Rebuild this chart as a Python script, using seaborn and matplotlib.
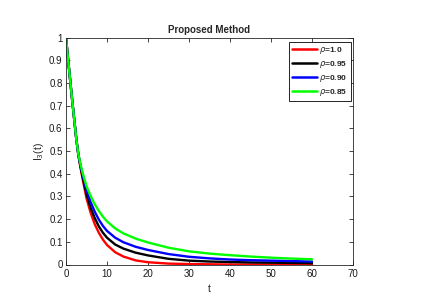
import numpy as np
import pandas as pd
import matplotlib
matplotlib.use("Agg")
import matplotlib.pyplot as plt
from matplotlib.lines import Line2D
import seaborn as sns

# Values
t_vals = [0, 0.5, 1, 1.5, 2, 2.5, 3, 3.5, 4, 5, 6, 7, 8, 9, 10, 12, 14, 17, 20,
          25, 30, 35, 40, 45, 50, 55, 60]
rho_100 = [1.0, 0.905, 0.815, 0.725, 0.64, 0.555, 0.485, 0.43, 0.382, 0.292, 0.228, 0.178,
           0.14, 0.11, 0.086, 0.054, 0.035, 0.018, 0.010, 0.004, 0.002, 0.001, 0.0,
           0.0, 0.0, 0.0, 0.0]
rho_095 = [1.0, 0.905, 0.815, 0.725, 0.64, 0.555, 0.485, 0.435, 0.39, 0.31, 0.25, 0.205,
           0.168, 0.14, 0.118, 0.088, 0.07, 0.052, 0.040, 0.025, 0.017, 0.013, 0.011,
           0.009, 0.008, 0.007, 0.006]
rho_090 = [1.0, 0.905, 0.815, 0.725, 0.64, 0.555, 0.486, 0.44, 0.40, 0.328, 0.275, 0.233,
           0.198, 0.17, 0.148, 0.118, 0.098, 0.078, 0.064, 0.046, 0.034, 0.027, 0.022,
           0.019, 0.017, 0.015, 0.013]
rho_085 = [1.0, 0.905, 0.815, 0.725, 0.64, 0.555, 0.487, 0.445, 0.407, 0.345, 0.302, 0.266,
           0.236, 0.211, 0.19, 0.159, 0.137, 0.114, 0.097, 0.074, 0.058, 0.048, 0.041,
           0.035, 0.030, 0.026, 0.023]

series_labels = [r"$\rho$=1.0", r"$\rho$=0.95", r"$\rho$=0.90", r"$\rho$=0.85"]
series_values = [rho_100, rho_095, rho_090, rho_085]
colors = ["#ff0000", "#000000", "#0000ff", "#00ff00"]

x_ticks = [0, 10, 20, 30, 40, 50, 60, 70]
y_ticks = [0, 0.1, 0.2, 0.3, 0.4, 0.5, 0.6, 0.7, 0.8, 0.9, 1]
y_tick_labels = ["0", "0.1", "0.2", "0.3", "0.4", "0.5", "0.6", "0.7", "0.8", "0.9", "1"]

rows = []
for lab, vals in zip(series_labels, series_values):
    for t, v in zip(t_vals, vals):
        rows.append({"t": t, "I": v, "series": lab})
df = pd.DataFrame(rows)

sns.set_theme(style="white")
plt.rcParams["font.family"] = ["Liberation Sans", "DejaVu Sans"]

fig = plt.figure(figsize=(4.21, 2.97), dpi=100)
ax = fig.add_axes([66 / 421, 1 - 264.5 / 297, (353 - 66) / 421, (264.5 - 37.5) / 297])

sns.lineplot(data=df, x="t", y="I", hue="series", hue_order=series_labels,
             palette=colors, linewidth=1.7, ax=ax, legend=False, estimator=None, sort=False)

ax.set_xlim(0, 70)
ax.set_ylim(0, 1)
ax.set_xticks(x_ticks)
ax.set_xticklabels([str(v) for v in x_ticks])
ax.set_yticks(y_ticks)
ax.set_yticklabels(y_tick_labels)

spine_col = "#262626"
for s in ax.spines.values():
    s.set_visible(True)
    s.set_color(spine_col)
    s.set_linewidth(0.6)

ax.tick_params(direction="in", length=3, width=0.6, colors=spine_col, labelsize=7,
               top=True, right=True, bottom=True, left=True)
ax.tick_params(axis="x", pad=3.5)
ax.tick_params(axis="y", pad=2.5)
for lab in ax.get_xticklabels() + ax.get_yticklabels():
    lab.set_color("#1a1a1a")

ax.set_title("Proposed Method", fontsize=7, fontweight="bold", pad=3)
ax.set_xlabel("t", fontsize=7.5, labelpad=3)
ax.set_ylabel(r"I$_3$(t)", fontsize=7.5, labelpad=2)

handles = [Line2D([0], [0], color=c, lw=1.8) for c in colors]
leg = ax.legend(handles, series_labels, loc="upper right", fontsize=6,
                frameon=True, fancybox=False, edgecolor="black", framealpha=1,
                handlelength=3.0, handletextpad=0.25, borderpad=0.4, labelspacing=0.35,
                borderaxespad=0.0, bbox_to_anchor=(0.993, 0.982))
leg.get_frame().set_linewidth(0.6)
for txt in leg.get_texts():
    txt.set_fontweight("bold")

fig.savefig("out.png", dpi=100, facecolor="white")
